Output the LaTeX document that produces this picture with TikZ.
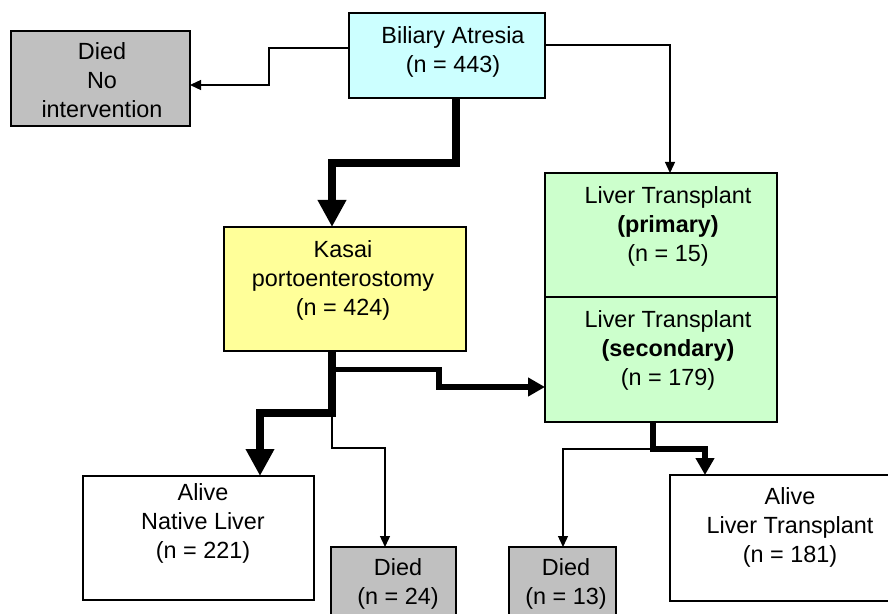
\documentclass[tikz,border=0pt]{standalone}
\usepackage{fontspec}
\setmainfont{Liberation Sans}
\usetikzlibrary{
	arrows.meta,
	positioning
}

\definecolor{atresiacol}{HTML}{CCFFFF}
\definecolor{kasaicol}{HTML}{FFFF99}
\definecolor{ltcol}{HTML}{CCFFCC}
\definecolor{diedcol}{HTML}{C0C0C0}

\begin{document}
\begin{tikzpicture}[
			x=0.5pt, y=-0.5pt,
			font=\fontsize{11.7pt}{14.5pt}\selectfont,
			box/.style={draw=black, line width=0.6pt, outer sep=0pt, inner sep=0pt},
			txt/.style={align=center, inner sep=0pt},
			thinar/.style={-{Triangle[length=5.5pt, width=5pt]}, line width=0.65pt},
			midar/.style={-{Triangle[length=8.5pt, width=9pt]}, line width=2.7pt},
			bigar/.style={-{Triangle[length=13.5pt, width=13.5pt]}, line width=4pt}
		]

		\useasboundingbox (0,0) rectangle (888,614);
		\clip (0,0) rectangle (888,614);
		\fill[white] (0,0) rectangle (888,614);

		% boxes
		\node[box, fill=atresiacol, minimum width=98pt, minimum height=42.5pt] (atresia) at (447,55.5) {};
		\node[box, fill=diedcol, minimum width=89.5pt, minimum height=47.5pt] (nointerv) at (100.5,78.5) {};
		\node[box, fill=kasaicol, minimum width=121pt, minimum height=62pt] (kasai) at (345,289) {};
		\node[box, fill=ltcol, minimum width=116pt, minimum height=62pt] (ltprim) at (661,235) {};
		\node[box, fill=ltcol, minimum width=116pt, minimum height=62.5pt, below=0pt of ltprim] (ltsec) {};
		\node[box, fill=white, minimum width=115.5pt, minimum height=62pt] (alivenat) at (198.5,538) {};
		\node[box, fill=diedcol, minimum width=62.5pt, minimum height=50pt] (died24) at (393.5,597) {};
		\node[box, fill=diedcol, minimum width=53.5pt, minimum height=50pt] (died13) at (562.5,597) {};
		\node[box, fill=white, minimum width=123pt, minimum height=63pt] (alivelt) at (793,538) {};

		% texts
		\node[txt] (atresia-t) at (453,52) {Biliary Atresia\\(n = 443)};
		\node[txt] (nointerv-t) at (102,80.5) {Died\\No\\intervention};
		\node[txt] (kasai-t) at (343,280) {Kasai\\portoenterostomy\\(n = 424)};
		\node[txt] (ltprim-t) at (668,226) {Liver Transplant\\\textbf{(primary)}\\(n = 15)};
		\node[txt] (ltsec-t) at (668,350) {Liver Transplant\\\textbf{(secondary)}\\(n = 179)};
		\node[txt] (alivenat-t) at (203,523) {Alive\\Native Liver\\(n = 221)};
		\node[txt] (died24-t) at (398,583.5) {Died\\(n = 24)};
		\node[txt] (died13-t) at (566,583.5) {Died\\(n = 13)};
		\node[txt] (alivelt-t) at (790,527.5) {Alive\\Liver Transplant\\(n = 181)};

		% junctions
		\coordinate (kbranch) at (332,369.5);
		\coordinate (ksplit) at (332,413);
		\coordinate (tsplit) at (653,449);

		% connectors
		\draw[thinar] (atresia.west |- 0,48) -- (269,48) -- (269,85) -- (nointerv.east |- 0,85);
		\draw[thinar] (atresia.east |- 0,45) -| (ltprim.north -| 670,0);
		\draw[bigar] (atresia.south -| 456,0) |- (332,163) -- (kasai.north -| 332,0);
		\draw[bigar] (kasai.south -| 332,0) -- (ksplit) -| (alivenat.north -| 260,0);
		\draw[midar] (kbranch) -| (439,387) -- (ltsec.west |- 0,387);
		\draw[thinar] (ksplit) -- (332,448) -| (died24.north -| 385,0);
		\draw[midar] (ltsec.south -| 653,0) -- (tsplit) -| (alivelt.north -| 705,0);
		\draw[thinar] (tsplit) -| (died13.north -| 563,0);
	\end{tikzpicture}
\end{document}
